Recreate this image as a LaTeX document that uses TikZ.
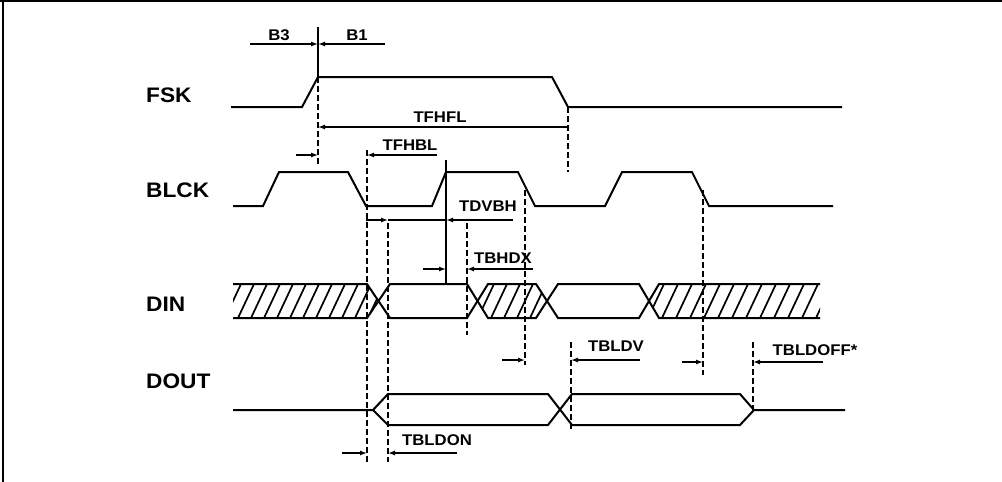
\documentclass[tikz,border=0pt]{standalone}
\usepackage{fontspec}
\setmainfont[FakeStretch=1.08]{Liberation Sans}
\usetikzlibrary{arrows.meta}

\tikzset{
  sig/.style={line width=2pt,line join=miter},
  dimline/.style={line width=1.3pt,-{Latex[length=7pt,width=5pt]}},
  guide/.style={line width=1.1pt,dash pattern=on 6pt off 3pt},
  hatch/.style={line width=1.7pt},
  signame/.style={font=\fontsize{21}{21}\bfseries\selectfont,anchor=west,inner sep=0pt},
  tlabel/.style={font=\fontsize{15.5}{15.5}\bfseries\selectfont,inner sep=0pt},
}

\begin{document}
\begin{tikzpicture}[x=1pt,y=-1pt]
		\useasboundingbox (0,0) rectangle (1002,482);
		% frame
		\draw[line width=2pt] (0,1) -- (1002,1);
		\draw[line width=1.3pt] (3,0) -- (3,482);

		% signal names
		\node[signame] (FSK) at (146,95) {FSK};
		\node[signame] (BLCK) at (146,190) {BLCK};
		\node[signame] (DIN) at (146,304) {DIN};
		\node[signame] (DOUT) at (146,381) {DOUT};

		% waveforms
		\draw[sig] (231,107) -- (302,107) -- (318,77) -- (552,77) -- (568,107) -- (842,107);
		\draw[sig] (233,206) -- (263,206) -- (279,172) -- (348,172) -- (366,206) -- (432,206) -- (446,172)
			-- (518,172) -- (535,206) -- (605,206) -- (622,172) -- (692,172) -- (709,206) -- (833,206);

		\begin{scope}
			\clip (233,284) -- (367,284) -- (378.5,301) -- (367,318) -- (233,318) -- cycle;
			\foreach \x in {212,225,...,380}
			\draw[hatch] (\x,318) -- ++(16,-34);
		\end{scope}
		\begin{scope}
			\clip (477.5,301) -- (488,284) -- (536,284) -- (547,301) -- (536,318) -- (488,318) -- cycle;
			\foreach \x in {465,478,...,560}
			\draw[hatch] (\x,318) -- ++(16,-34);
		\end{scope}
		\begin{scope}
			\clip (649,301) -- (659,284) -- (820,284) -- (820,318) -- (659,318) -- cycle;
			\foreach \x in {634,648,...,830}
			\draw[hatch] (\x,318) -- ++(16,-34);
		\end{scope}
		\draw[sig] (233,284) -- (367,284) -- (390,318) -- (467,318) -- (488,284) -- (536,284) -- (558,318)
			-- (639,318) -- (659,284) -- (820,284);
		\draw[sig] (233,318) -- (367,318) -- (390,284) -- (467,284) -- (488,318) -- (536,318) -- (558,284)
			-- (639,284) -- (659,318) -- (820,318);

		\draw[sig] (233,410) -- (373,410) -- (388,394) -- (548,394) -- (572,425) -- (740,425) -- (754,410) -- (845,410);
		\draw[sig] (373,410) -- (388,425) -- (548,425) -- (572,394) -- (740,394) -- (754,410);

		% guide lines
		\coordinate (G1a) at (318,27);
		\coordinate (G1b) at (318,77);
		\coordinate (G1c) at (318,165);
		\draw[line width=1.3pt] (G1a) -- (G1b);
		\draw[guide] (G1b) -- (G1c);
		\draw[guide] (568,107) -- (568,172);
		\draw[guide] (367,150) -- (367,462);
		\draw[guide] (388,223) -- (388,462);
		\draw[line width=1.3pt] (446,160) -- (446,284);
		\draw[guide] (467,223) -- (467,335);
		\draw[guide] (525,190) -- (525,365);
		\draw[guide] (571,342) -- (571,430);
		\draw[guide] (703,190) -- (703,375);
		\draw[guide] (753,342) -- (753,410);

		% dimensions
		\draw[dimline] (250,44) -- (G1a |- 0,44);
		\draw[dimline] (385,44) -- (G1a |- 0,44);
		\draw[dimline,{Latex[length=7pt,width=5pt]}-] (318,127) -- (568,127);
		\draw[dimline] (296,155) -- (318,155);
		\draw[dimline] (437,155) -- (367,155);
		\draw[dimline] (366,220) -- (388,220);
		\draw[line width=1.3pt] (388,220) -- (446,220);
		\draw[dimline] (513,220) -- (446,220);
		\draw[dimline] (423,269) -- (446,269);
		\draw[dimline] (533,269) -- (467,269);
		\draw[dimline] (502,360) -- (525,360);
		\draw[dimline] (640,360) -- (571,360);
		\draw[dimline] (682,362) -- (703,362);
		\draw[dimline] (823,362) -- (753,362);
		\draw[dimline] (342,453) -- (367,453);
		\draw[dimline] (457,453) -- (388,453);

		% timing labels
		\node[tlabel] (B3) at (279,35) {B3};
		\node[tlabel] (B1) at (357,35) {B1};
		\node[tlabel] (TFHFL) at (440,117) {TFHFL};
		\node[tlabel] (TFHBL) at (410,145) {TFHBL};
		\node[tlabel] (TDVBH) at (488,206) {TDVBH};
		\node[tlabel] (TBHDX) at (503,258) {TBHDX};
		\node[tlabel] (TBLDV) at (616,346) {TBLDV};
		\node[tlabel] (TBLDOFF) at (815,350) {TBLDOFF*};
		\node[tlabel] (TBLDON) at (437,440) {TBLDON};
\end{tikzpicture}
\end{document}
